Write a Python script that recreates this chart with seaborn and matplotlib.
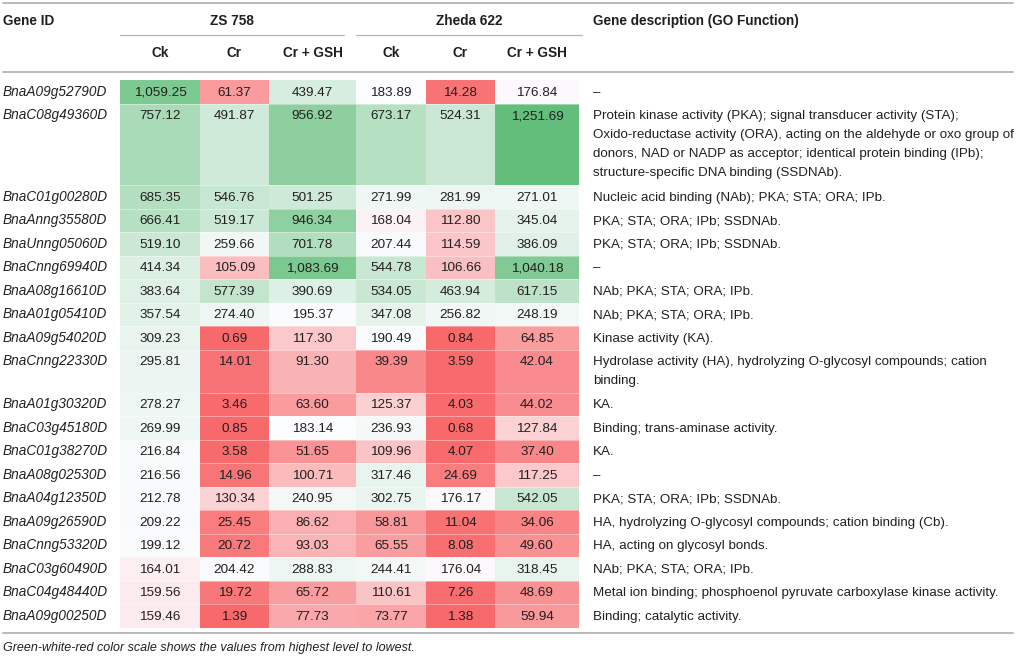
import numpy as np
import pandas as pd
import seaborn as sns
import matplotlib
matplotlib.use("Agg")
import matplotlib.pyplot as plt
from matplotlib.colors import LinearSegmentedColormap, TwoSlopeNorm

# Table data
gene_ids = ["BnaA09g52790D", "BnaC08g49360D", "BnaC01g00280D", "BnaAnng35580D",
            "BnaUnng05060D", "BnaCnng69940D", "BnaA08g16610D", "BnaA01g05410D",
            "BnaA09g54020D", "BnaCnng22330D", "BnaA01g30320D", "BnaC03g45180D",
            "BnaC01g38270D", "BnaA08g02530D", "BnaA04g12350D", "BnaA09g26590D",
            "BnaCnng53320D", "BnaC03g60490D", "BnaC04g48440D", "BnaA09g00250D"]

zs_ck = [1059.25, 757.12, 685.35, 666.41, 519.10, 414.34, 383.64, 357.54, 309.23, 295.81,
         278.27, 269.99, 216.84, 216.56, 212.78, 209.22, 199.12, 164.01, 159.56, 159.46]
zs_cr = [61.37, 491.87, 546.76, 519.17, 259.66, 105.09, 577.39, 274.40, 0.69, 14.01,
         3.46, 0.85, 3.58, 14.96, 130.34, 25.45, 20.72, 204.42, 19.72, 1.39]
zs_gsh = [439.47, 956.92, 501.25, 946.34, 701.78, 1083.69, 390.69, 195.37, 117.30, 91.30,
          63.60, 183.14, 51.65, 100.71, 240.95, 86.62, 93.03, 288.83, 65.72, 77.73]
zh_ck = [183.89, 673.17, 271.99, 168.04, 207.44, 544.78, 534.05, 347.08, 190.49, 39.39,
         125.37, 236.93, 109.96, 317.46, 302.75, 58.81, 65.55, 244.41, 110.61, 73.77]
zh_cr = [14.28, 524.31, 281.99, 112.80, 114.59, 106.66, 463.94, 256.82, 0.84, 3.59,
         4.03, 0.68, 4.07, 24.69, 176.17, 11.04, 8.08, 176.04, 7.26, 1.38]
zh_gsh = [176.84, 1251.69, 271.01, 345.04, 386.09, 1040.18, 617.15, 248.19, 64.85, 42.04,
          44.02, 127.84, 37.40, 117.25, 542.05, 34.06, 49.60, 318.45, 48.69, 59.94]

descriptions = [
    ["–"],
    ["Protein kinase activity (PKA); signal transducer activity (STA);",
     "Oxido-reductase activity (ORA), acting on the aldehyde or oxo group of",
     "donors, NAD or NADP as acceptor; identical protein binding (IPb);",
     "structure-specific DNA binding (SSDNAb)."],
    ["Nucleic acid binding (NAb); PKA; STA; ORA; IPb."],
    ["PKA; STA; ORA; IPb; SSDNAb."],
    ["PKA; STA; ORA; IPb; SSDNAb."],
    ["–"],
    ["NAb; PKA; STA; ORA; IPb."],
    ["NAb; PKA; STA; ORA; IPb."],
    ["Kinase activity (KA)."],
    ["Hydrolase activity (HA), hydrolyzing O-glycosyl compounds; cation",
     "binding."],
    ["KA."],
    ["Binding; trans-aminase activity."],
    ["KA."],
    ["–"],
    ["PKA; STA; ORA; IPb; SSDNAb."],
    ["HA, hydrolyzing O-glycosyl compounds; cation binding (Cb)."],
    ["HA, acting on glycosyl bonds."],
    ["NAb; PKA; STA; ORA; IPb."],
    ["Metal ion binding; phosphoenol pyruvate carboxylase kinase activity."],
    ["Binding; catalytic activity."],
]

groups = ["ZS 758", "Zheda 622"]
treatments = ["Ck", "Cr", "Cr + GSH"]
footnote = "Green-white-red color scale shows the values from highest level to lowest."

df = pd.DataFrame({"zs_ck": zs_ck, "zs_cr": zs_cr, "zs_gsh": zs_gsh,
                   "zh_ck": zh_ck, "zh_cr": zh_cr, "zh_gsh": zh_gsh}, index=gene_ids)
values = df.to_numpy()

# layout in pixels
W, H = 1020, 657
col_edges = np.array([120, 200, 269, 356, 426, 495, 579])
col_w = np.diff(col_edges)
table_top = 80
line_gap = 19.3
row_px = np.array([23.5 + line_gap * (len(d) - 1) for d in descriptions])
unit = 0.5
row_units = np.round(row_px / unit).astype(int)
row_tops = table_top + np.concatenate([[0], np.cumsum(row_units * unit)])
table_bottom = row_tops[-1]

# expand the cells to pixel blocks so rows/columns can have their own size
big = np.repeat(np.repeat(values, row_units, axis=0), col_w, axis=1)

sns.set_theme(style="white")
plt.rcParams["font.family"] = ["Liberation Sans", "DejaVu Sans"]
txt = "#231f20"

fig = plt.figure(figsize=(W / 100, H / 100), dpi=100)
hax = fig.add_axes([col_edges[0] / W, 1 - table_bottom / H,
                    (col_edges[-1] - col_edges[0]) / W, (table_bottom - table_top) / H])
cmap = LinearSegmentedColormap.from_list("gwr", ["#F8696B", "#FCFCFF", "#63BE7B"])
norm = TwoSlopeNorm(vmin=values.min(), vcenter=np.median(values), vmax=values.max())
sns.heatmap(big, ax=hax, cmap=cmap, norm=norm, cbar=False,
            xticklabels=False, yticklabels=False)
hax.set_axis_off()

ax = fig.add_axes([0, 0, 1, 1], zorder=3)
ax.set_xlim(0, W)
ax.set_ylim(H, 0)
ax.set_axis_off()
ax.patch.set_alpha(0)

# faint separators between cells
for y in row_tops[1:-1]:
    ax.plot([col_edges[0], col_edges[-1]], [y, y], color="white", lw=0.6, alpha=0.45)

# rules
rule = "#b4b4b4"
ax.plot([3, 1013], [3, 3], color=rule, lw=1.3)
ax.plot([3, 1013], [72, 72], color=rule, lw=1.3)
ax.plot([3, 1013], [633, 633], color=rule, lw=1.3)
ax.plot([col_edges[0], col_edges[3] - 12], [35, 35], color=rule, lw=0.9)
ax.plot([col_edges[3], 582], [35, 35], color=rule, lw=0.9)

fs = 9.8
ax.text(3, 25, "Gene ID", fontsize=fs, fontweight="bold", color=txt, va="baseline")
ax.text((col_edges[0] + col_edges[3] - 12) / 2, 25, groups[0], fontsize=fs,
        fontweight="bold", color=txt, ha="center", va="baseline")
ax.text((col_edges[3] + 582) / 2, 25, groups[1], fontsize=fs,
        fontweight="bold", color=txt, ha="center", va="baseline")
ax.text(593, 25, "Gene description (GO Function)", fontsize=fs, fontweight="bold",
        color=txt, va="baseline")
centers = (col_edges[:-1] + col_edges[1:]) / 2
for j, c in enumerate(centers):
    ax.text(c, 57.3, treatments[j % 3], fontsize=fs, fontweight="bold", color=txt,
            ha="center", va="baseline")

for i, gid in enumerate(gene_ids):
    base = row_tops[i] + 15.8
    ax.text(3, base, gid, fontsize=fs, style="italic", color=txt, va="baseline")
    for j, c in enumerate(centers):
        ax.text(c, base, f"{values[i, j]:,.2f}", fontsize=9.7, color=txt,
                ha="center", va="baseline")
    for k, line in enumerate(descriptions[i]):
        ax.text(593, base + k * 18.8, line, fontsize=9.6, color=txt, va="baseline")

ax.text(3, 651, footnote, fontsize=9, style="italic", color=txt, va="baseline")

fig.savefig("out.png", dpi=100)
